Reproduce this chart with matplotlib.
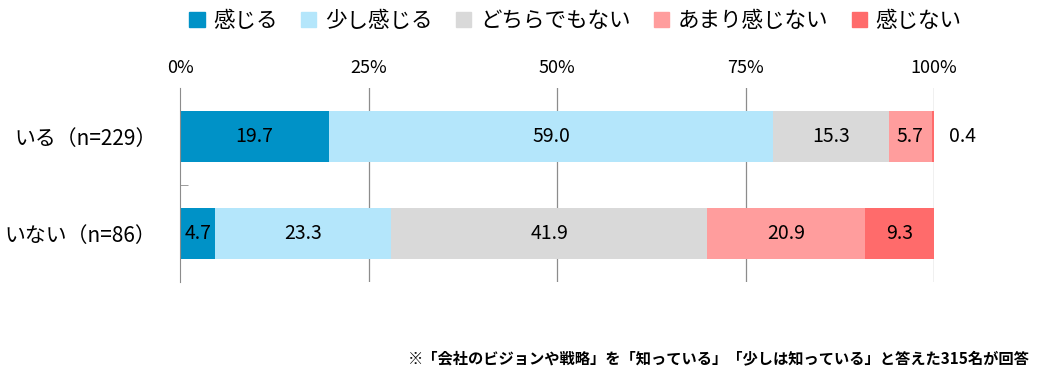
import numpy as np
import matplotlib.pyplot as plt
from matplotlib.patches import Patch

plt.rcParams['font.family'] = ['Noto Sans CJK JP', 'DejaVu Sans']

# données
categories = ['いる（n=229）', 'いない（n=86）']
series = ['感じる', '少し感じる', 'どちらでもない', 'あまり感じない', '感じない']
values = np.array([
    [19.7, 59.0, 15.3, 5.7, 0.4],
    [4.7, 23.3, 41.9, 20.9, 9.3],
])
colors = ['#0092C7', '#B4E6FB', '#D9D9D9', '#FF9D9D', '#FF6B6B']
xticks = [0, 25, 50, 75, 100]
note = '※「会社のビジョンや戦略」を「知っている」「少しは知っている」と答えた315名が回答'

fig = plt.figure(figsize=(10.37, 3.77), dpi=100)
ax = fig.add_axes([180/1037, 1-282/377, 754/1037, 194/377])

y = np.arange(len(categories))
left = np.zeros(len(categories))
for j, name in enumerate(series):
    ax.barh(y, values[:, j], left=left, height=0.52, color=colors[j], zorder=2)
    for i in range(len(categories)):
        v = values[i, j]
        if v < 1:
            # trop petit : étiquette à l'extérieur
            ax.text(102, y[i], f'{v:.1f}', va='center', ha='left', fontsize=14)
        else:
            ax.text(left[i] + v/2, y[i], f'{v:.1f}', va='center', ha='center', fontsize=14)
    left += values[:, j]

ax.set_xlim(0, 100)
ax.set_ylim(1.5, -0.5)
ax.set_xticks(xticks)
ax.set_xticklabels([f'{t}%' for t in xticks], fontsize=13)
ax.xaxis.tick_top()
ax.tick_params(axis='x', length=0, pad=8)
for t in xticks[1:]:
    ax.axvline(t, color='#8c8c8c', lw=0.9, zorder=1)

ax.set_yticks(y)
ax.set_yticklabels(categories, fontsize=15)
ax.set_yticks([0.5], minor=True)
ax.tick_params(axis='y', which='major', length=0, pad=17)
ax.tick_params(axis='y', which='minor', length=6, direction='in', color='#8c8c8c')

for s in ['top', 'right', 'bottom']:
    ax.spines[s].set_visible(False)
ax.spines['left'].set_color('#8c8c8c')

handles = [Patch(color=c) for c in colors]
fig.legend(handles, series, loc='upper center', bbox_to_anchor=(0.555, 1.025), ncol=5,
           frameon=False, fontsize=15.5, handlelength=0.7, handleheight=0.7,
           handletextpad=0.4, columnspacing=1.1)

fig.text(1030/1037, 1-358/377, note, ha='right', va='center', fontsize=11, fontweight='bold')

fig.savefig('out.png', dpi=100)
